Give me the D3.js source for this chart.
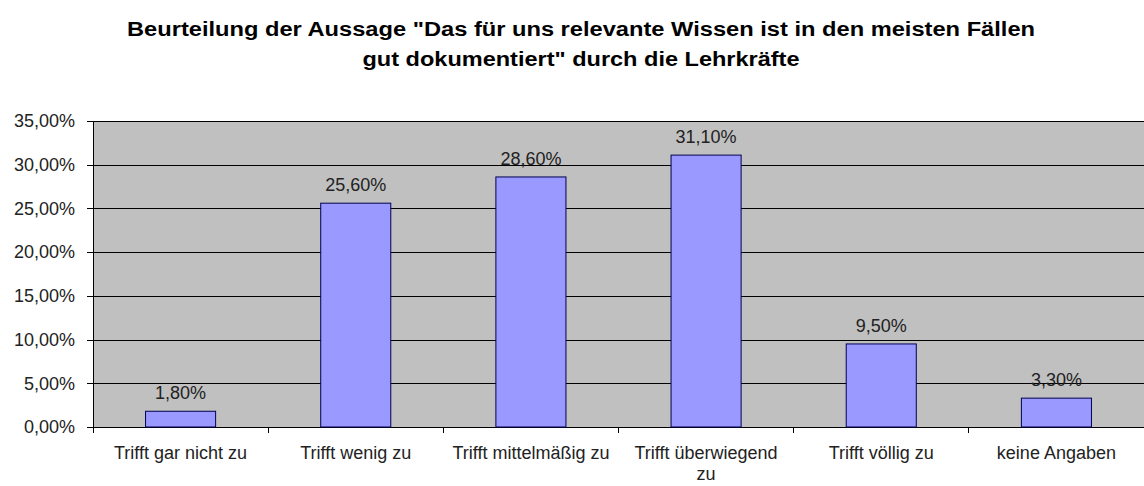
<!DOCTYPE html>
<html><head><meta charset="utf-8">
<script src="https://cdn.jsdelivr.net/npm/d3@7"></script>
<style>body{margin:0;background:#fff}svg{display:block}text{font-family:"Liberation Sans",Arial,sans-serif}</style>
</head><body><svg id="c" width="1144" height="486"></svg>
<script>
const categories = ["Trifft gar nicht zu","Trifft wenig zu","Trifft mittelmäßig zu","Trifft überwiegend zu","Trifft völlig zu","keine Angaben"];
const values = [1.8, 25.6, 28.6, 31.1, 9.5, 3.3];
const yTicks = [0,5,10,15,20,25,30,35];
const titleLines = ["Beurteilung der Aussage \"Das für uns relevante Wissen ist in den meisten Fällen","gut dokumentiert\" durch die Lehrkräfte"];

const svg = d3.select("#c");
const m = {left:93, top:121, bottom:427, right:1144};
const x = d3.scaleBand().domain(categories).range([m.left, m.right]).paddingInner(0).paddingOuter(0);
const y = d3.scaleLinear().domain([0,35]).range([m.bottom, m.top]);
const fmt = v => v.toFixed(2).replace(".", ",") + "%";

svg.append("rect").attr("x", m.left).attr("y", m.top).attr("width", m.right-m.left).attr("height", m.bottom-m.top).attr("fill","#c0c0c0");

svg.selectAll("line.grid").data(yTicks.slice(1)).enter().append("line")
  .attr("x1", m.left).attr("x2", m.right).attr("y1", d=>Math.round(y(d))+0.5).attr("y2", d=>Math.round(y(d))+0.5)
  .attr("stroke","#000").attr("stroke-width",1);

const yAxis = svg.append("g").attr("transform",`translate(${m.left},0)`)
  .call(d3.axisLeft(y).tickValues(yTicks).tickFormat(fmt).tickSize(6).tickPadding(12).tickSizeOuter(0));
yAxis.selectAll("text").attr("font-size",18).attr("fill","#222").attr("font-family","'Liberation Sans',Arial,sans-serif");
yAxis.selectAll("line, path").attr("stroke","#000").attr("shape-rendering","crispEdges");

const xAxis = svg.append("g").attr("transform",`translate(0,${m.bottom})`)
  .call(d3.axisBottom(x).tickSize(0).tickSizeOuter(0).tickFormat(""));
xAxis.select("path").attr("stroke","#000").attr("shape-rendering","crispEdges");
xAxis.selectAll(".tick").remove();
const bounds = categories.map(c => x(c)).concat([m.right]);
svg.selectAll("line.bt").data(bounds).enter().append("line")
  .attr("x1", d=>d).attr("x2", d=>d).attr("y1", m.bottom).attr("y2", m.bottom+6)
  .attr("stroke","#000").attr("shape-rendering","crispEdges");

const bw = x.bandwidth()*0.4;
svg.selectAll("rect.bar").data(values).enter().append("rect")
  .attr("x",(d,i)=>x(categories[i])+x.bandwidth()/2-bw/2)
  .attr("y", d=>y(d)).attr("width", bw).attr("height", d=>y(0)-y(d))
  .attr("fill","#9999ff").attr("stroke","#000050").attr("stroke-width",1);

svg.selectAll("text.val").data(values).enter().append("text")
  .attr("x",(d,i)=>x(categories[i])+x.bandwidth()/2).attr("y", d=>y(d)-12)
  .attr("text-anchor","middle").attr("font-size",18).attr("fill","#222")
  .text(fmt);

categories.forEach((c,i)=>{
  const cx = x(c)+x.bandwidth()/2;
  const lines = c === "Trifft überwiegend zu" ? ["Trifft überwiegend","zu"] : [c];
  lines.forEach((l,j)=>{
    svg.append("text").attr("x",cx).attr("y",459+j*21).attr("text-anchor","middle")
      .attr("font-size",18).attr("fill","#222").text(l);
  });
});

const titleW = [908, 437];
titleLines.forEach((t,i)=>{
  svg.append("text").attr("x",581).attr("y",36+i*30).attr("text-anchor","middle")
    .attr("font-size",20).attr("font-weight","bold").attr("fill","#000")
    .attr("textLength", titleW[i]).attr("lengthAdjust","spacingAndGlyphs").text(t);
});
</script></body></html>
